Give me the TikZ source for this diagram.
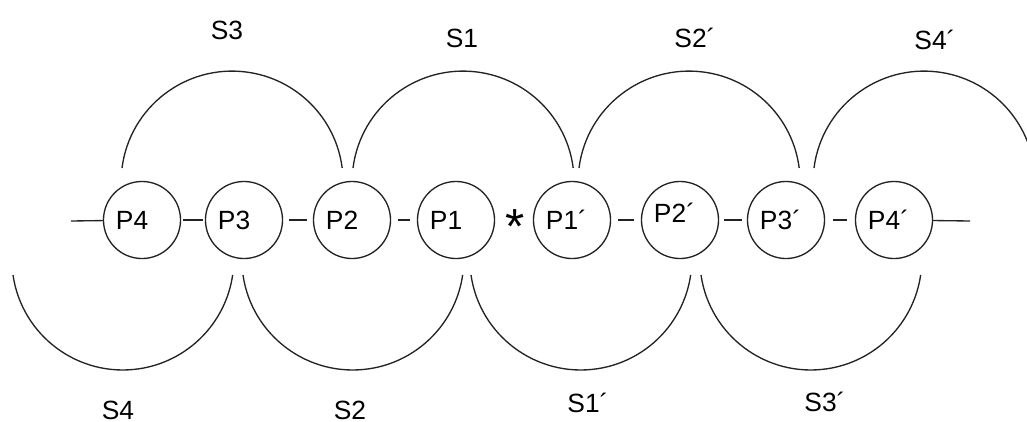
\documentclass[tikz,border=0pt]{standalone}
\usepackage{fontspec}
\setmainfont{Liberation Sans}
\usepackage{tikz}
\usetikzlibrary{calc}
\definecolor{inkdark}{RGB}{35,35,35}
\tikzset{
  pnode/.style={circle, draw=inkdark, minimum size=0.77cm, inner sep=0pt,
    text width=0.52cm, align=left, text height=0.19cm, text depth=0pt,
    font=\fontsize{7.5}{9}\selectfont, line width=0.38pt},
  slabel/.style={font=\fontsize{7.5}{9}\selectfont, inner sep=0pt},
  starmark/.style={font=\fontsize{14}{14}\selectfont, inner sep=0pt, anchor=base},
  link/.style={line width=0.38pt, color=inkdark},
  bigarc/.style={line width=0.38pt, color=inkdark}
}

\begin{document}
\begin{tikzpicture}[x=0.01cm, y=-0.01cm]
  \useasboundingbox (0,0) rectangle (1027,421);

  % Chain of small circles
  \node[pnode] (P4) at (142,220) {P4};
  \node[pnode] (P3) at (244,220) {P3};
  \node[pnode] (P2) at (352,220) {P2};
  \node[pnode] (P1) at (456,220) {P1};
  \node[starmark] (star) at (515,243) {*};
  \node[pnode] (P1p) at (572,220) {P1´};
  \node[pnode] (P2p) at (680,220) {\raisebox{0.07cm}{P2´}};
  \node[pnode] (P3p) at (786,220) {P3´};
  \node[pnode] (P4p) at (894,220) {P4´};

  % Short links
  \coordinate (lend) at (71,221);
  \coordinate (rend) at (970,221);
  \draw[link] (lend) -- (P4);
  \draw[link] (P4p) -- (rend);
  \foreach \a/\b/\s in {P4/P3/0.2mm, P3/P2/0.6mm, P2/P1/0.7mm,
                        P1p/P2p/0.7mm, P2p/P3p/0.5mm, P3p/P4p/0.8mm}
    \draw[link, shorten <=\s, shorten >=\s] (\a) -- (\b);

  % Upper arcs
  \foreach \cx/\nm/\lab/\lx/\ly in {232/s3/S3/227/30, 463/s1/S1/462/38,
                                    689/s2p/S2´/695/38, 924/s4p/S4´/935/40} {
    \draw[bigarc] (\cx-110,168) arc[start angle=187.3, end angle=352.7, radius=111];
    \node[slabel] (\nm) at (\lx,\ly) {\lab};
  }

  % Lower arcs
  \foreach \cx/\nm/\lab/\lx/\ly in {123/s4/S4/118/410, 353/s2/S2/350/410,
                                    581/s1p/S1´/588/403, 811/s3p/S3´/825/402} {
    \draw[bigarc] (\cx-110,275) arc[start angle=171.7, end angle=8.3, radius=111];
    \node[slabel] (\nm) at (\lx,\ly) {\lab};
  }
\end{tikzpicture}
\end{document}
